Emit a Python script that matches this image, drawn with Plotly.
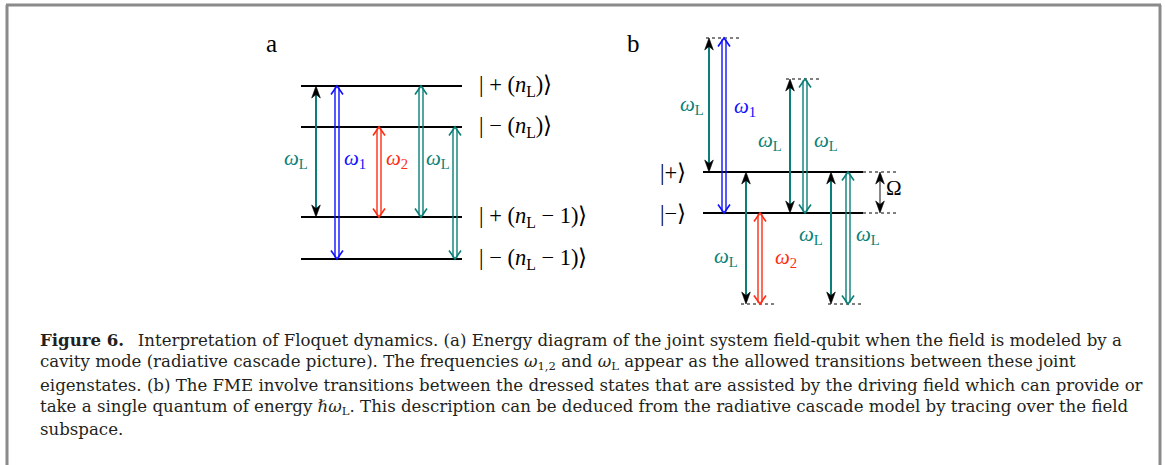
import plotly.graph_objects as go

W, H = 1165, 465

# ---------------- data ----------------
# Panel a: joint field-qubit energy levels (pixel y of level lines)
a_level_y = [86, 127, 217, 259]
a_level_labels = ["| + (<i>n</i><sub>L</sub>)\u27E9",
                  "| \u2212 (<i>n</i><sub>L</sub>)\u27E9",
                  "| + (<i>n</i><sub>L</sub> \u2212 1)\u27E9",
                  "| \u2212 (<i>n</i><sub>L</sub> \u2212 1)\u27E9"]
# transitions in panel a: (upper level index, lower level index)
a_trans_x = [316, 337, 379, 421, 455]
a_trans_upper = [0, 0, 1, 0, 1]
a_trans_lower = [2, 3, 2, 2, 3]
a_trans_kind = ["single", "double", "double", "double", "double"]
a_trans_name = ["L", "1", "2", "L", None]

# Panel b: dressed states and virtual levels
b_level_y = [172, 213]
b_level_labels = ["|+\u27E9", "|\u2212\u27E9"]
b_virtual_y = [38, 79, 304, 304]
b_trans_x = [709, 724, 746, 760, 790, 805, 831, 848]
b_trans_top = [38, 38, 172, 213, 79, 79, 172, 172]
b_trans_bottom = [172, 213, 304, 304, 213, 213, 304, 304]
b_trans_kind = ["single", "double", "single", "double", "single", "double", "single", "double"]
b_trans_name = ["L", "1", "L", "2", "L", "L", "L", "L"]
omega_split = [172, 213]

caption_lines = [
    "<b>Figure 6.</b>\u2002 Interpretation of Floquet dynamics. (a) Energy diagram of the joint system field-qubit when the field is modeled by a",
    "cavity mode (radiative cascade picture). The frequencies <i>\u03c9</i><sub>1,2</sub> and <i>\u03c9</i><sub>L</sub> appear as the allowed transitions between these joint",
    "eigenstates. (b) The FME involve transitions between the dressed states that are assisted by the driving field which can provide or",
    "take a single quantum of energy <i>\u210f\u03c9</i><sub>L</sub>. This description can be deduced from the radiative cascade model by tracing over the field",
    "subspace.",
]

# ---------------- styles ----------------
TEAL = "#0a7f77"
BLUE = "#1010ff"
RED = "#ff2d14"
COLORS = {"L": TEAL, "1": BLUE, "2": RED, None: TEAL}
SERIF = "Liberation Serif"
CAPFONT = "DejaVu Serif"

fig = go.Figure()
shapes = []


def seg(x0, y0, x1, y1, color, width=1.6, dash=None):
    d = dict(type="line", xref="x", yref="y", x0=x0, y0=y0, x1=x1, y1=y1,
             line=dict(color=color, width=width))
    if dash:
        d["line"]["dash"] = dash
    shapes.append(d)


def stealth(x, ytip, d, color="black"):
    p = f"M {x},{ytip} L {x-4.3},{ytip+d*12} L {x},{ytip+d*8.5} L {x+4.3},{ytip+d*12} Z"
    shapes.append(dict(type="path", xref="x", yref="y", path=p, fillcolor=color,
                       line=dict(color=color, width=0.6)))


def chevron(x, ytip, d, color):
    p = f"M {x-6},{ytip+d*8.5} L {x},{ytip} L {x+6},{ytip+d*8.5}"
    shapes.append(dict(type="path", xref="x", yref="y", path=p,
                       line=dict(color=color, width=1.6)))


def arrow(x, top, bottom, kind, color):
    if kind == "single":
        seg(x, top + 6, x, bottom - 6, color, 2)
        stealth(x, top, 1)
        stealth(x, bottom, -1)
    else:
        for dx in (-2, 2):
            seg(x + dx, top + 1.5, x + dx, bottom - 1.5, color, 1.4)
        chevron(x, top, 1, color)
        chevron(x, bottom, -1, color)


def omega_label(x, y, name, color):
    fig.add_annotation(x=x, y=y, xref="x", yref="y", showarrow=False,
                       text=f"<i>\u03c9</i><sub>{name}</sub>",
                       font=dict(family=SERIF, size=21, color=color),
                       xanchor="center", yanchor="middle")


# ---- panel a ----
fig.add_annotation(x=271, y=43, text="a", showarrow=False,
                   font=dict(family=SERIF, size=25, color="black"))
for y, lab in zip(a_level_y, a_level_labels):
    fig.add_trace(go.Scatter(x=[301, 462], y=[y, y], mode="lines",
                             line=dict(color="black", width=2), hoverinfo="skip"))
    fig.add_annotation(x=477, y=y, text=lab, showarrow=False, xanchor="left",
                       yanchor="middle", font=dict(family=SERIF, size=22.5, color="black"))
for x, u, l, k, n in zip(a_trans_x, a_trans_upper, a_trans_lower, a_trans_kind, a_trans_name):
    arrow(x, a_level_y[u], a_level_y[l], k, COLORS[n])
a_label_pos = [(296, 159), (355, 159), (397, 159), (438, 159)]
for (x, y), n in zip(a_label_pos, [nm for nm in a_trans_name if nm]):
    omega_label(x, y, n, COLORS[n])

# ---- panel b ----
fig.add_annotation(x=633, y=43, text="b", showarrow=False,
                   font=dict(family=SERIF, size=25, color="black"))
for y, lab in zip(b_level_y, b_level_labels):
    fig.add_trace(go.Scatter(x=[703, 863], y=[y, y], mode="lines",
                             line=dict(color="black", width=2), hoverinfo="skip"))
    fig.add_trace(go.Scatter(x=[863, 898], y=[y, y], mode="lines",
                             line=dict(color="black", width=1, dash="dot"), hoverinfo="skip"))
    fig.add_annotation(x=673, y=y, text=lab, showarrow=False, xanchor="center",
                       yanchor="middle", font=dict(family=SERIF, size=22.5, color="black"))
virtual_x = [(706, 742), (786, 822), (741, 776), (828, 863)]
for (x0, x1), y in zip(virtual_x, b_virtual_y):
    fig.add_trace(go.Scatter(x=[x0, x1], y=[y, y], mode="lines",
                             line=dict(color="black", width=1, dash="dot"), hoverinfo="skip"))
for x, t, b, k, n in zip(b_trans_x, b_trans_top, b_trans_bottom, b_trans_kind, b_trans_name):
    arrow(x, t, b, k, COLORS[n] if k == "double" else TEAL)
b_label_pos = [(692, 105), (745, 107), (726, 257), (786, 258), (770, 141), (826, 141), (811, 235), (868, 235)]
for (x, y), n in zip(b_label_pos, b_trans_name):
    omega_label(x, y, n, COLORS[n])
# Omega splitting
seg(880, omega_split[0] + 6, 880, omega_split[1] - 6, "#555555", 1.4)
stealth(880, omega_split[0], 1)
stealth(880, omega_split[1], -1)
fig.add_annotation(x=894, y=188, text="\u03a9", showarrow=False,
                   font=dict(family=SERIF, size=21, color="black"))

# ---- caption ----
cap_y = [340, 362, 385, 407, 429]
for y, line in zip(cap_y, caption_lines):
    fig.add_annotation(x=38, y=y, text=line, showarrow=False, xanchor="left",
                       yanchor="middle", font=dict(family=CAPFONT, size=16.6, color="#231f20"))

# ---- frame ----
FRAME = "#8a8a8a"
seg(7, 5, 7, H, FRAME, 3)
seg(6, 5, 1161, 5, FRAME, 3)
seg(1160, 5, 1160, H, FRAME, 3)

fig.update_layout(
    width=W, height=H, margin=dict(l=0, r=0, t=0, b=0),
    paper_bgcolor="white", plot_bgcolor="white", showlegend=False,
    xaxis=dict(range=[0, W], visible=False, fixedrange=True),
    yaxis=dict(range=[H, 0], visible=False, fixedrange=True),
    shapes=shapes,
)
fig.write_html("out.html", config={"displayModeBar": False, "staticPlot": True},
               post_script="document.body.style.margin='0px';document.body.style.overflow='hidden';")
